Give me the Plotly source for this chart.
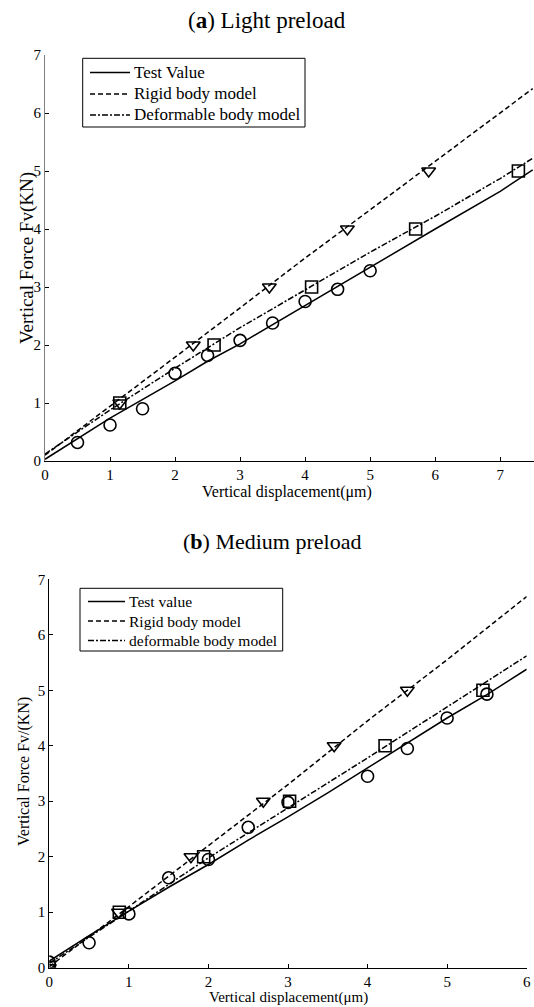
import plotly.graph_objects as go

# ---------------- Panel (a) Light preload ----------------
a_test_x = [0, 1, 2, 2.5, 3, 3.5, 4, 5, 6, 7, 7.5]
a_test_y = [0.03, 0.74, 1.38, 1.72, 2.02, 2.35, 2.68, 3.35, 4.0, 4.65, 5.02]
a_rigid_x = [0, 1, 2, 3, 4, 5, 6, 7, 7.5]
a_rigid_y = [0.1, 0.94, 1.79, 2.64, 3.5, 4.33, 5.16, 6.0, 6.42]
a_deform_x = [0, 1, 2, 3, 4, 5, 6, 7, 7.5]
a_deform_y = [0.12, 0.88, 1.6, 2.3, 2.95, 3.6, 4.22, 4.87, 5.22]
a_circ_x = [0.5, 1, 1.5, 2, 2.5, 3, 3.5, 4, 4.5, 5]
a_circ_y = [0.32, 0.62, 0.9, 1.51, 1.82, 2.08, 2.38, 2.75, 2.96, 3.28]
a_sq_x = [1.15, 2.6, 4.1, 5.7, 7.28]
a_sq_y = [1, 2, 3, 4, 5]
a_tri_x = [1.15, 2.28, 3.45, 4.65, 5.9]
a_tri_y = [1, 2, 3, 4, 5]
a_names = ["Test Value", "Rigid body model", "Deformable body model"]

# ---------------- Panel (b) Medium preload ----------------
b_test_x = [0, 0.5, 1, 1.5, 2, 2.5, 3, 3.5, 4, 4.5, 5, 5.5, 6]
b_test_y = [0.12, 0.58, 1.02, 1.45, 1.86, 2.3, 2.72, 3.15, 3.6, 4.05, 4.5, 4.92, 5.38]
b_rigid_x = [0, 1, 2, 3, 4, 5, 6]
b_rigid_y = [0.02, 1.1, 2.2, 3.3, 4.45, 5.55, 6.69]
b_deform_x = [0, 1, 2, 3, 4, 5, 6]
b_deform_y = [0.08, 1.02, 1.98, 2.88, 3.78, 4.7, 5.62]
b_circ_x = [0, 0.5, 1, 1.5, 2, 2.5, 3, 4, 4.5, 5, 5.5]
b_circ_y = [0.1, 0.45, 0.97, 1.62, 1.95, 2.53, 2.98, 3.45, 3.95, 4.5, 4.93]
b_sq_x = [0, 0.88, 1.94, 3.02, 4.22, 5.45]
b_sq_y = [0, 1, 2, 3, 4, 5]
b_tri_x = [0, 0.87, 1.78, 2.69, 3.58, 4.5]
b_tri_y = [0, 1, 2, 3, 4, 5]
b_names = ["Test value", "Rigid body model", "deformable body model"]

FONT = "Liberation Serif, Times New Roman, serif"
W, H = 534, 1007
DASHES = ["solid", "5px,3px", "6px,2px,2px,2px"]

fig = go.Figure()


def px_x(p):
    return p / W


def px_y(p):
    return 1 - p / H


def add_panel(xa, ya, names, tx, ty, rx, ry, dx, dy, cx, cy, sx, sy, vx, vy):
    for name, dash, x, y in zip(names, DASHES, [tx, rx, dx], [ty, ry, dy]):
        fig.add_trace(go.Scatter(x=x, y=y, mode="lines", name=name, showlegend=False,
                                 line=dict(color="black", width=1.5, dash=dash),
                                 xaxis=xa, yaxis=ya))
    for x, y, sym in [(cx, cy, "circle-open"), (sx, sy, "square-open"), (vx, vy, "triangle-down-open")]:
        fig.add_trace(go.Scatter(x=x, y=y, mode="markers", showlegend=False,
                                 marker=dict(symbol=sym, size=12, color="black",
                                             line=dict(color="black", width=1.6)),
                                 xaxis=xa, yaxis=ya))


add_panel("x", "y", a_names, a_test_x, a_test_y, a_rigid_x, a_rigid_y,
          a_deform_x, a_deform_y, a_circ_x, a_circ_y, a_sq_x, a_sq_y, a_tri_x, a_tri_y)
add_panel("x2", "y2", b_names, b_test_x, b_test_y, b_rigid_x, b_rigid_y,
          b_deform_x, b_deform_y, b_circ_x, b_circ_y, b_sq_x, b_sq_y, b_tri_x, b_tri_y)

shapes = []
annotations = []


def add_legend(names, box, rows, line_x0, line_x1, text_x, fsize):
    x0, y0, x1, y1 = box
    shapes.append(dict(type="rect", xref="paper", yref="paper",
                       x0=px_x(x0), x1=px_x(x1), y0=px_y(y1), y1=px_y(y0),
                       line=dict(color="black", width=1), fillcolor="white", layer="above"))
    for name, dash, ry in zip(names, DASHES, rows):
        shapes.append(dict(type="line", xref="paper", yref="paper",
                           x0=px_x(line_x0), x1=px_x(line_x1), y0=px_y(ry), y1=px_y(ry),
                           line=dict(color="black", width=1.5, dash=dash), layer="above"))
        annotations.append(dict(text=name, x=px_x(text_x), y=px_y(ry), xref="paper", yref="paper",
                                showarrow=False, xanchor="left", yanchor="middle",
                                font=dict(family=FONT, size=fsize, color="black")))


add_legend(a_names, (82.7, 58.3, 305, 127), [72.5, 94, 115], 90, 130, 132, 17)
add_legend(b_names, (80, 588.3, 282.7, 651), [601.5, 621, 640.5], 88, 125, 126.5, 15.5)

# titles
annotations.append(dict(text="(<b>a</b>) Light preload", x=px_x(267), y=px_y(20), xref="paper", yref="paper",
                        showarrow=False, font=dict(family=FONT, size=23, color="black"),
                        xanchor="center", yanchor="middle"))
annotations.append(dict(text="(<b>b</b>) Medium preload", x=px_x(272), y=px_y(541), xref="paper", yref="paper",
                        showarrow=False, font=dict(family=FONT, size=22, color="black"),
                        xanchor="center", yanchor="middle"))
# axis titles
annotations.append(dict(text="Vertical Force Fv(KN)", x=px_x(27), y=px_y(258), xref="paper", yref="paper",
                        textangle=-90, showarrow=False, font=dict(family=FONT, size=19, color="black"),
                        xanchor="center", yanchor="middle"))
annotations.append(dict(text="Vertical displacement(μm)", x=px_x(287), y=px_y(492), xref="paper", yref="paper",
                        showarrow=False, font=dict(family=FONT, size=16, color="black"),
                        xanchor="center", yanchor="middle"))
annotations.append(dict(text="Vertical Force Fv/(KN)", x=px_x(24), y=px_y(772), xref="paper", yref="paper",
                        textangle=-90, showarrow=False, font=dict(family=FONT, size=16, color="black"),
                        xanchor="center", yanchor="middle"))
annotations.append(dict(text="Vertical displacement(μm)", x=px_x(288), y=px_y(997), xref="paper", yref="paper",
                        showarrow=False, font=dict(family=FONT, size=15, color="black"),
                        xanchor="center", yanchor="middle"))

ax_common = dict(showgrid=False, zeroline=False, showline=True, linewidth=1,
                 ticks="inside", ticklen=4, tickcolor="black", automargin=False,
                 tickfont=dict(family=FONT, size=15, color="black"))

fig.update_layout(
    width=W, height=H,
    margin=dict(l=0, r=0, t=0, b=0),
    paper_bgcolor="white", plot_bgcolor="white",
    font=dict(family=FONT, color="black"),
    showlegend=False,
    xaxis=dict(ax_common, domain=[px_x(45), 1.0], range=[0, 7.52], dtick=1,
               linecolor="black", anchor="y"),
    yaxis=dict(ax_common, domain=[px_y(461), px_y(55)], range=[0, 7], dtick=1,
               linecolor="#808080", anchor="x"),
    xaxis2=dict(ax_common, domain=[px_x(49.3), px_x(526.7)], range=[0, 6], dtick=1,
                linecolor="black", anchor="y2"),
    yaxis2=dict(ax_common, domain=[px_y(967.7), px_y(579.3)], range=[0, 7], dtick=1,
                linecolor="black", anchor="x2"),
    shapes=shapes,
    annotations=annotations,
)

fig.write_html("out.html", config={"displayModeBar": False},
               post_script="document.body.style.margin='0px';document.body.style.padding='0px';")
